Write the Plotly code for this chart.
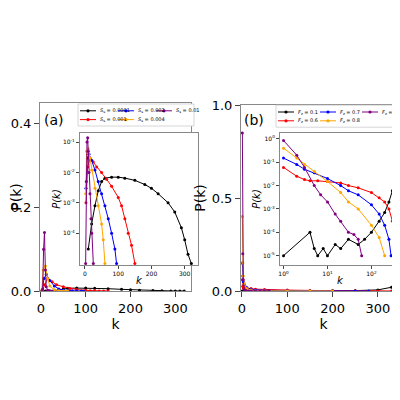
import plotly.graph_objects as go

# ---- panel (a) data: S_s series ----
a_names = ["<i>S</i><sub>s</sub> = 0.0001", "<i>S</i><sub>s</sub> = 0.001", "<i>S</i><sub>s</sub> = 0.002", "<i>S</i><sub>s</sub> = 0.004", "<i>S</i><sub>s</sub> = 0.01"]
a_k = [
    [10, 20, 30, 40, 50, 60, 80, 100, 120, 150, 180, 200, 220, 250, 270, 290, 300, 310, 320],
    [3, 8, 15, 25, 35, 50, 65, 80, 100, 110, 120, 130, 140, 150],
    [3, 7, 12, 20, 30, 40, 50, 60, 70, 80, 90, 95],
    [2, 5, 10, 15, 20, 30, 40, 50, 55, 60],
    [2, 4, 6, 8, 10, 12, 15, 18, 20, 25],
]
a_p = [
    [3e-5, 2e-4, 8e-4, 2.5e-3, 5e-3, 6.5e-3, 7e-3, 7e-3, 6.5e-3, 5.5e-3, 4e-3, 3e-3, 2e-3, 1e-3, 5e-4, 1.5e-4, 6e-5, 2e-5, 1e-5],
    [1e-3, 1.5e-2, 3e-2, 2.2e-2, 1.5e-2, 1e-2, 6e-3, 3.5e-3, 1.5e-3, 8e-4, 3e-4, 1e-4, 4e-5, 1e-5],
    [3e-3, 3e-2, 4e-2, 2.5e-2, 1.2e-2, 5e-3, 2e-3, 8e-4, 3e-4, 1e-4, 3e-5, 1e-5],
    [2e-3, 5e-2, 6e-2, 3e-2, 1.2e-2, 3e-3, 8e-4, 2e-4, 6e-5, 1e-5],
    [1e-5, 5e-3, 0.1, 0.14, 0.05, 0.01, 2e-3, 3e-4, 1e-4, 1e-5],
]
# ---- panel (b) data: F_z series ----
b_names = ["<i>F</i><sub>z</sub> = 0.1", "<i>F</i><sub>z</sub> = 0.6", "<i>F</i><sub>z</sub> = 0.7", "<i>F</i><sub>z</sub> = 0.8", "<i>F</i><sub>z</sub> = 0.9"]
b_k = [
    [1, 4, 5, 6, 8, 10, 15, 20, 30, 50, 70, 100, 150, 200, 250, 300, 330, 345, 355],
    [1, 2, 3, 4, 6, 10, 20, 30, 50, 100, 150, 200, 250, 300, 330, 340],
    [1, 2, 3, 5, 10, 20, 30, 50, 100, 150, 200, 250, 280],
    [1, 2, 3, 5, 10, 20, 30, 50, 100, 150, 200],
    [1, 2, 3, 5, 7, 10, 15, 20, 30, 40, 50, 60],
]
b_p = [
    [1e-5, 1e-4, 2e-5, 1e-5, 2e-5, 1e-5, 3e-5, 2e-5, 5e-5, 3e-5, 5e-5, 1e-4, 3e-4, 7e-4, 2e-3, 6e-3, 2e-2, 5e-2, 0.13],
    [0.06, 0.025, 0.018, 0.016, 0.016, 0.015, 0.013, 0.01, 8e-3, 5e-3, 3e-3, 2e-3, 1e-3, 3e-4, 5e-5, 1e-5],
    [0.15, 0.08, 0.05, 0.035, 0.02, 0.01, 0.006, 0.004, 1.5e-3, 6e-4, 2e-4, 5e-5, 1e-5],
    [0.4, 0.15, 0.08, 0.04, 0.015, 5e-3, 2e-3, 1e-3, 2e-4, 6e-5, 1e-5],
    [0.85, 0.2, 0.06, 0.01, 4e-3, 2e-3, 6e-4, 3e-4, 1e-4, 8e-5, 5e-5, 1e-5],
]
colors = ["black", "red", "blue", "orange", "purple"]

fig = go.Figure()
for i in range(5):
    mk = dict(size=3, color=colors[i])
    ln = dict(color=colors[i], width=1)
    fig.add_trace(go.Scatter(x=a_k[i], y=a_p[i], mode="lines+markers", line=ln, marker=mk, xaxis="x", yaxis="y"))
    fig.add_trace(go.Scatter(x=a_k[i], y=a_p[i], mode="lines+markers", line=ln, marker=mk, xaxis="x3", yaxis="y3"))
    fig.add_trace(go.Scatter(x=b_k[i], y=b_p[i], mode="lines+markers", line=ln, marker=mk, xaxis="x2", yaxis="y2"))
    fig.add_trace(go.Scatter(x=b_k[i], y=b_p[i], mode="lines+markers", line=ln, marker=mk, xaxis="x4", yaxis="y4"))

ax = dict(showgrid=False, zeroline=False, showline=True, mirror=True, linecolor="#888", ticks="outside",
          tickfont=dict(size=13, color="black"), automargin=False)
ins = dict(showgrid=False, zeroline=False, showline=True, mirror=True, linecolor="#888", ticks="outside",
           ticklen=3, tickfont=dict(size=6, color="black"), automargin=False)

def logticks(lo, hi):
    return dict(tickvals=[10 ** e for e in range(lo, hi + 1)],
                ticktext=["10<sup>%d</sup>" % e for e in range(lo, hi + 1)])

shapes, annotations = [], []
# legend boxes
def legend(x0, y_top, names, colw, cols):
    shapes.append(dict(type="rect", xref="paper", yref="paper", x0=x0 - 0.005, x1=x0 + colw * cols,
                       y0=y_top - 0.05, y1=y_top + 0.005, line=dict(color="#ccc", width=0.8), fillcolor="white"))
    for j, n in enumerate(names):
        c, r = j % cols, j // cols
        # column-major like matplotlib: 2 rows
        c, r = j // 2, j % 2
        xs = x0 + c * colw
        yy = y_top - 0.012 - r * 0.022
        shapes.append(dict(type="line", xref="paper", yref="paper", x0=xs, x1=xs + 0.04, y0=yy, y1=yy,
                           line=dict(color=colors[j], width=1)))
        shapes.append(dict(type="circle", xref="paper", yref="paper", x0=xs + 0.016, x1=xs + 0.024,
                           y0=yy - 0.004, y1=yy + 0.004, fillcolor=colors[j], line=dict(width=0)))
        annotations.append(dict(text=n, x=xs + 0.045, y=yy, xref="paper", yref="paper", xanchor="left",
                                yanchor="middle", showarrow=False, font=dict(size=5)))

legend(0.18, 0.755, a_names, 0.095, 3)
legend(0.675, 0.752, b_names, 0.105, 3)
annotations += [
    dict(text="(a)", x=0.085, y=0.745, xref="paper", yref="paper", xanchor="left", yanchor="top",
         showarrow=False, font=dict(size=14)),
    dict(text="(b)", x=0.585, y=0.745, xref="paper", yref="paper", xanchor="left", yanchor="top",
         showarrow=False, font=dict(size=14)),
]

fig.update_layout(
    width=400, height=400, margin=dict(l=0, r=0, t=0, b=0), showlegend=False,
    paper_bgcolor="white", plot_bgcolor="white", font=dict(family="DejaVu Sans", color="black"),
    xaxis=dict(ax, domain=[0.08, 0.4575], range=[-2, 335], tickvals=[0, 100, 200, 300],
               title=dict(text="k", font=dict(size=14), standoff=2)),
    yaxis=dict(ax, domain=[0.2925, 0.7625], range=[0, 0.45], tickvals=[0, 0.2, 0.4], tickformat=".1f",
               title=dict(text="P(k)", font=dict(size=14), standoff=2)),
    xaxis2=dict(ax, domain=[0.5825, 0.995], range=[-2, 362], tickvals=[0, 100, 200, 300], anchor="y2",
                title=dict(text="k", font=dict(size=14), standoff=2)),
    yaxis2=dict(ax, domain=[0.2925, 0.7575], range=[0, 1.0], tickvals=[0, 0.5, 1.0], tickformat=".1f", anchor="x2",
                title=dict(text="P(k)", font=dict(size=14), standoff=2)),
    xaxis3=dict(ins, domain=[0.18, 0.475], range=[-15, 340], tickvals=[0, 100, 200, 300], anchor="y3",
                title=dict(text="<i>k</i>", font=dict(size=10), standoff=0)),
    yaxis3=dict(ins, domain=[0.3575, 0.6875], type="log", range=[-5.05, -0.7], **logticks(-4, -1),
                anchor="x3", title=dict(text="<i>P(k)</i>", font=dict(size=10), standoff=0)),
    xaxis4=dict(ins, domain=[0.68, 0.98], type="log", range=[-0.08, 2.65], **logticks(0, 2),
                anchor="y4", title=dict(text="<i>k</i>", font=dict(size=10), standoff=0)),
    yaxis4=dict(ins, domain=[0.3575, 0.6875], type="log", range=[-5.4, 0.25], **logticks(-5, 0),
                anchor="x4", title=dict(text="<i>P(k)</i>", font=dict(size=10), standoff=0)),
    shapes=shapes, annotations=annotations,
)
fig.write_html("out.html")
